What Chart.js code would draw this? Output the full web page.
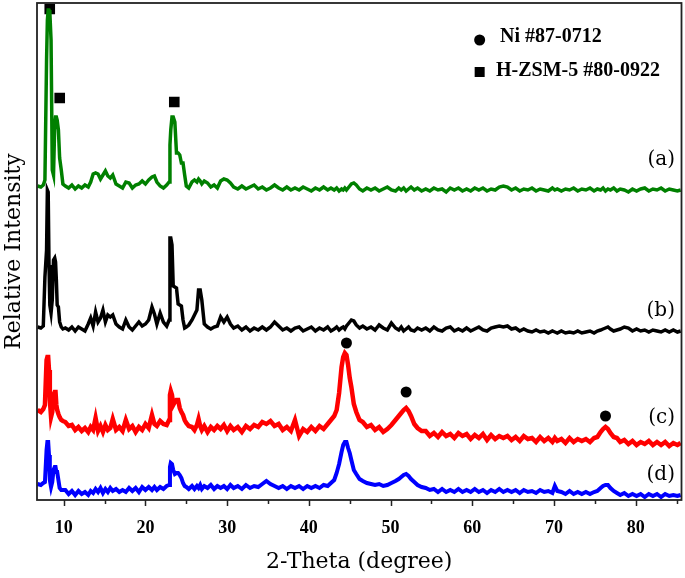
<!DOCTYPE html>
<html>
<head>
<meta charset="utf-8">
<title>XRD patterns</title>
<script src="https://cdn.jsdelivr.net/npm/chart.js@4.4.1/dist/chart.umd.min.js"></script>
<style>
  html, body { margin: 0; padding: 0; background: #fff; }
  #wrap { width: 685px; height: 578px; position: relative; }
</style>
</head>
<body>
<div id="wrap"><canvas id="xrd"></canvas></div>
<script>
// 2-theta grid (degree), shared by the four patterns
const twoTheta = [
  6.8, 7.2, 7.5, 7.7, 7.9, 8.0, 8.1, 8.2, 8.3, 8.45,
  8.6, 8.75, 8.9, 9.0, 9.1, 9.2, 9.35, 9.5, 9.7, 9.9,
  10.2, 10.6, 11.0, 11.4, 11.8, 12.2, 12.6, 13.0, 13.3, 13.6,
  13.9, 14.2, 14.5, 14.8, 15.1, 15.4, 15.7, 16.0, 16.4, 16.8,
  17.2, 17.6, 18.0, 18.4, 18.8, 19.2, 19.6, 20.0, 20.4, 20.8,
  21.1, 21.4, 21.8, 22.2, 22.6, 22.9, 23.0, 23.1, 23.25, 23.4,
  23.6, 23.8, 24.0, 24.2, 24.4, 24.6, 24.8, 25.0, 25.3, 25.7,
  26.0, 26.3, 26.5, 26.7, 26.9, 27.2, 27.6, 28.0, 28.4, 28.8,
  29.2, 29.6, 30.0, 30.4, 30.8, 31.3, 31.8, 32.3, 32.8, 33.3,
  33.8, 34.3, 34.8, 35.3, 35.8, 36.3, 36.8, 37.3, 37.8, 38.3,
  38.8, 39.3, 39.8, 40.3, 40.8, 41.3, 41.8, 42.3, 42.7, 43.1,
  43.4, 43.7, 44.0, 44.2, 44.4, 44.6, 44.8, 45.0, 45.2, 45.5,
  45.8, 46.2, 46.6, 47.1, 47.6, 48.1, 48.6, 49.1, 49.6, 50.1,
  50.6, 51.0, 51.3, 51.6, 51.9, 52.2, 52.5, 52.9, 53.3, 53.8,
  54.3, 54.8, 55.3, 55.8, 56.3, 56.8, 57.3, 57.8, 58.3, 58.8,
  59.3, 59.8, 60.3, 60.8, 61.3, 61.8, 62.3, 62.8, 63.3, 63.8,
  64.3, 64.8, 65.3, 65.8, 66.3, 66.8, 67.3, 67.8, 68.3, 68.8,
  69.3, 69.8, 70.1, 70.4, 70.9, 71.4, 71.9, 72.4, 72.9, 73.4,
  73.9, 74.4, 74.9, 75.3, 75.7, 76.0, 76.3, 76.6, 76.9, 77.3,
  77.7, 78.1, 78.6, 79.1, 79.6, 80.1, 80.6, 81.1, 81.6, 82.1,
  82.6, 83.1, 83.6, 84.1, 84.6, 85.1, 85.5
];

// stacked relative intensities (offsets included), one list per sample
const sampleA = [
  314, 313, 315, 320, 440, 480, 490, 490, 488, 460,
  330, 325, 375, 383, 383, 380, 370, 342, 330, 316,
  314, 312, 315, 311, 314, 312, 315, 313, 318, 326,
  327, 326, 321, 325, 329, 324, 322, 325, 316, 314,
  312, 318, 317, 312, 315, 316, 319, 316, 320, 323,
  324, 318, 314, 312, 315, 318, 355, 370, 383, 383,
  378, 347, 347, 345, 337, 337, 325, 314, 312, 318,
  320, 318, 321, 319, 316, 319, 317, 313, 315, 312,
  319, 321, 320, 317, 313, 311, 314, 311, 313, 315,
  311, 313, 310, 312, 315, 312, 310, 313, 310, 312,
  310, 313, 311, 309, 312, 310, 313, 310, 312, 310,
  312, 309, 311, 310, 312, 310, 312, 314, 316, 317,
  315, 311, 309, 312, 310, 312, 309, 311, 313, 310,
  309, 312, 310, 312, 309, 311, 313, 310, 312, 309,
  311, 309, 312, 310, 311, 308, 312, 310, 312, 309,
  311, 309, 312, 310, 312, 309, 311, 310, 313, 314,
  313, 310, 312, 309, 311, 310, 312, 309, 311, 310,
  309, 312, 310, 311, 309, 311, 310, 312, 309, 311,
  310, 312, 309, 311, 310, 312, 309, 311, 310, 312,
  309, 311, 310, 308, 311, 309, 311, 312, 309, 311,
  310, 312, 309, 311, 310, 309, 310
];
const sampleB = [
  173, 172, 174, 223, 250, 310, 308, 235, 195, 187,
  200, 240, 242, 238, 220, 195, 193, 178, 173, 171,
  172, 170, 173, 169, 173, 171, 169, 176, 182, 174,
  188, 178, 182, 190, 178, 185, 183, 185, 176, 173,
  171, 180, 173, 170, 174, 178, 174, 176, 180, 193,
  186, 176, 187, 178, 174, 180, 262, 262, 255, 214,
  213, 212, 196, 195, 194, 180, 172, 173, 175, 180,
  185, 190, 210, 210, 200, 176, 173, 171, 173, 174,
  183, 178, 183, 176, 172, 174, 170, 173, 169, 172,
  170, 173, 170, 173, 178, 174, 170, 172, 169, 172,
  173, 169, 171, 173, 169, 172, 170, 173, 169, 171,
  173, 170, 172, 173, 171, 174, 176, 178, 180, 179,
  175, 172, 174, 171, 173, 170, 175, 172, 170, 177,
  172, 170, 173, 169, 171, 173, 170, 169, 172, 170,
  172, 169, 173, 170, 169, 172, 173, 169, 171, 169,
  172, 169, 171, 173, 170, 169, 172, 173, 174, 173,
  174, 171, 172, 169, 171, 169, 168, 170, 168, 169,
  167, 169, 168, 167, 169, 167, 168, 167, 169, 167,
  168, 169, 167, 169, 170, 171, 172, 173, 171, 169,
  170, 171, 173, 172, 169, 171, 169, 170, 168, 170,
  169, 168, 170, 168, 170, 168, 169
];
const sampleC = [
  90, 88, 91, 95, 140, 143, 143, 130, 100, 83,
  88, 105, 108, 108, 95, 90, 86, 83, 80, 79,
  78, 74, 75, 70, 73, 69, 72, 68, 73, 70,
  82, 69, 74, 68, 75, 70, 72, 81, 70, 73,
  69, 80, 71, 74, 68, 73, 70, 76, 72, 85,
  76, 74, 79, 76, 75, 80, 105, 109, 105, 95,
  98, 100, 100, 92, 88, 85, 80, 77, 74, 73,
  70, 75, 81, 74, 70, 74, 68, 73, 70, 74,
  71, 75, 69, 74, 70, 73, 68, 74, 71, 75,
  73, 78, 76, 79, 74, 76, 70, 73, 69, 80,
  64, 71, 68, 73, 69, 74, 71, 76, 80, 84,
  90, 107, 133, 143, 147, 145, 135, 122, 113, 96,
  88, 80, 78, 73, 75, 70, 73, 68, 71, 75,
  80, 84, 87, 90, 92, 89, 84, 76, 72, 69,
  69, 64, 67, 63, 68, 64, 66, 62, 67, 64,
  66, 61, 65, 62, 66, 60, 65, 61, 64, 62,
  64, 60, 63, 59, 64, 61, 62, 58, 63, 59,
  62, 58, 62, 59, 61, 57, 62, 58, 61, 59,
  61, 58, 62, 63, 68, 71, 73, 71, 67, 63,
  62, 58, 60, 56, 59, 55, 58, 56, 59, 55,
  58, 55, 58, 54, 57, 55, 57
];
const sampleD = [
  16, 15, 17, 18, 50, 58, 58, 45, 20, 13,
  18, 30, 33, 33, 28, 28, 20, 12, 10, 10,
  10, 6, 9, 5, 9, 6, 8, 5, 9, 7,
  11, 8, 12, 7, 11, 8, 12, 9, 11, 8,
  10, 8, 12, 9, 12, 8, 13, 10, 13, 10,
  13, 10, 13, 11, 14, 15, 33, 37, 36, 30,
  26, 27, 27, 25, 22, 17, 14, 13, 11, 14,
  11, 14, 12, 15, 11, 14, 12, 15, 11, 14,
  12, 14, 11, 15, 12, 14, 11, 15, 12, 14,
  13, 16, 19, 16, 14, 12, 14, 11, 14, 12,
  14, 11, 14, 12, 14, 12, 15, 14, 17, 20,
  27, 36, 48, 55, 58, 58, 52, 47, 40, 30,
  26, 21, 19, 17, 16, 15, 16, 14, 15, 17,
  19, 21, 23, 25, 26, 24, 21, 18, 15, 13,
  12, 10, 11, 8, 11, 8, 10, 8, 11, 8,
  10, 8, 11, 8, 10, 7, 10, 8, 11, 8,
  10, 8, 10, 7, 10, 8, 9, 7, 10, 8,
  9, 7, 14, 9, 8, 6, 9, 6, 8, 6,
  8, 6, 8, 9, 12, 14, 15, 15, 12, 9,
  7, 5, 7, 4, 6, 4, 6, 3, 6, 4,
  6, 3, 6, 4, 5, 4, 5
];

// reflection markers
const zsmX = [8.29, 9.51, 23.53];
const zsmY = [491, 402, 398];
const niX = [44.6, 51.9, 76.3];
const niY = [157, 108, 84];

// labels
const sampleLabels = ['(a)', '(b)', '(c)', '(d)'];
const sampleLabelY = [340, 189, 82, 25];
const legendLabels = ['Ni #87-0712', 'H-ZSM-5 #80-0922'];
const legendY = [463, 429];

// x axis ticks
const majorTicks = [10, 20, 30, 40, 50, 60, 70, 80];
const minorTicks = [15, 25, 35, 45, 55, 65, 75, 85];

const toPoints = (xs, ys) => xs.map((t, i) => ({x: t, y: ys[i]}));

const frameAndText = {
  id: 'frameAndText',
  afterDraw(chart) {
    const ctx = chart.ctx;
    const a = chart.chartArea;
    const x = chart.scales.x, y = chart.scales.y;
    ctx.save();
    ctx.strokeStyle = '#222';
    ctx.lineWidth = 1.8;
    ctx.strokeRect(a.left, a.top, a.right - a.left, a.bottom - a.top);

    ctx.lineWidth = 1.5;
    ctx.beginPath();
    majorTicks.forEach(v => {
      const px = Math.round(x.getPixelForValue(v)) + 0.5;
      ctx.moveTo(px, a.bottom); ctx.lineTo(px, a.bottom + 6);
    });
    minorTicks.forEach(v => {
      const px = Math.round(x.getPixelForValue(v)) + 0.5;
      ctx.moveTo(px, a.bottom); ctx.lineTo(px, a.bottom + 4);
    });
    ctx.stroke();

    // (a)..(d)
    ctx.fillStyle = '#000';
    ctx.font = '20px "DejaVu Serif"';
    ctx.textAlign = 'right';
    ctx.textBaseline = 'middle';
    sampleLabels.forEach((t, i) => {
      ctx.fillText(t, x.getPixelForValue(84.8), y.getPixelForValue(sampleLabelY[i]));
    });

    // phase legend
    const sx = x.getPixelForValue(60.9);
    const tx = x.getPixelForValue(62.9);
    ctx.beginPath();
    ctx.arc(sx, y.getPixelForValue(legendY[0] - 3), 5.5, 0, Math.PI * 2);
    ctx.fill();
    const sy = y.getPixelForValue(legendY[1] - 1);
    ctx.fillRect(sx - 5, sy - 5, 10, 10);
    ctx.font = 'bold 20px "Liberation Serif"';
    ctx.textAlign = 'left';
    legendLabels.forEach((t, i) => {
      ctx.fillText(t, i === 0 ? tx + 4 : tx, y.getPixelForValue(legendY[i]));
    });
    ctx.restore();
  }
};

new Chart(document.getElementById('xrd'), {
  type: 'line',
  data: {
    datasets: [
      {label: 'a', data: toPoints(twoTheta, sampleA), borderColor: 'rgb(0,128,0)', borderWidth: 3.5},
      {label: 'b', data: toPoints(twoTheta, sampleB), borderColor: '#000', borderWidth: 3.5},
      {label: 'c', data: toPoints(twoTheta, sampleC), borderColor: '#ff0000', borderWidth: 4.5},
      {label: 'd', data: toPoints(twoTheta, sampleD), borderColor: '#0000ff', borderWidth: 4},
      {label: 'H-ZSM-5', data: toPoints(zsmX, zsmY), showLine: false, pointStyle: 'rect',
       pointRadius: 7.5, backgroundColor: '#000', borderWidth: 0},
      {label: 'Ni', data: toPoints(niX, niY), showLine: false, pointStyle: 'circle',
       pointRadius: 5.5, backgroundColor: '#000', borderWidth: 0}
    ]
  },
  options: {
    responsive: true,
    maintainAspectRatio: false,
    animation: false,
    elements: {point: {radius: 0}, line: {tension: 0}},
    layout: {autoPadding: false, padding: {top: 3, right: 3.5, left: 0, bottom: 0}},
    plugins: {legend: {display: false}, tooltip: {enabled: false}},
    scales: {
      x: {
        type: 'linear',
        min: 6.73,
        max: 85.6,
        afterBuildTicks: s => { s.ticks = majorTicks.map(v => ({value: v})); },
        afterFit: s => {
          s.height = 78;
          s.paddingLeft = 0; s.paddingRight = 0; s.paddingTop = 0; s.paddingBottom = 0;
        },
        ticks: {
          autoSkip: false, maxRotation: 0, padding: 18, color: '#000',
          font: {family: 'Liberation Serif', size: 18, weight: 'bold'}
        },
        grid: {display: false, drawTicks: false},
        border: {display: false},
        title: {
          display: true, text: '2-Theta (degree)', color: '#000',
          font: {family: 'DejaVu Serif', size: 22},
          padding: {top: 0, bottom: 3}
        }
      },
      y: {
        min: 0,
        max: 497,
        afterFit: s => {
          s.width = 37;
          s.paddingLeft = 0; s.paddingRight = 0; s.paddingTop = 0; s.paddingBottom = 0;
        },
        ticks: {display: false},
        grid: {display: false, drawTicks: false},
        border: {display: false},
        title: {
          display: true, text: 'Relative Intensity', color: '#000',
          font: {family: 'DejaVu Serif', size: 22},
          padding: {top: 1, bottom: 0}
        }
      }
    }
  },
  plugins: [frameAndText]
});
</script>
</body>
</html>
